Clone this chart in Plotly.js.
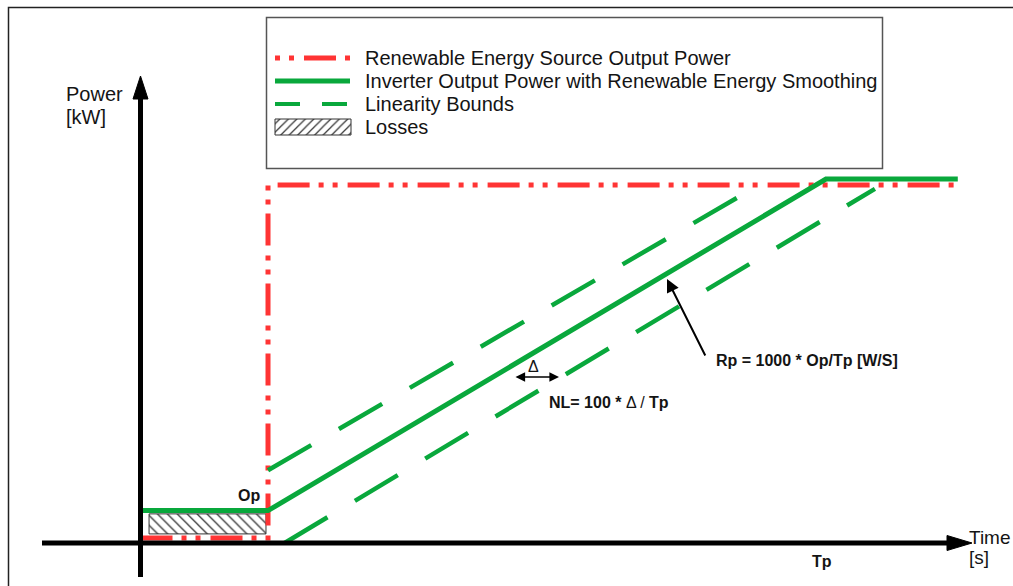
<!DOCTYPE html>
<html>
<head>
<meta charset="utf-8">
<script src="https://cdn.plot.ly/plotly-3.0.1.min.js"></script>
<style>html,body{margin:0;padding:0;background:#fff;}#chart{width:1013px;height:586px;}</style>
</head>
<body>
<div id="chart"></div>
<script>
// ---- Data (time in arbitrary units, power in % of final output) ----
const timeSource   = [0, 10, 10, 64.1];
const powerSource  = [1.4, 1.4, 98.35, 98.35];
const timeInverter  = [0, 10, 53.76, 64.1];
const powerInverter = [8.9, 8.9, 100, 100];
const timeUpperBound  = [10, 48.4];
const powerUpperBound = [20, 98.1];
const timeLowerBound  = [11.3, 57.6];
const powerLowerBound = [0, 97.3];
const timeLosses  = [0.67, 9.84, 9.84, 0.67, 0.67];
const powerLosses = [2.5, 2.5, 8, 8, 2.5];
const legendLabels = ["Renewable Energy Source Output Power",
  "Inverter Output Power with Renewable Energy Smoothing",
  "Linearity Bounds", "Losses"];

const RED = '#ff3434', GREEN = '#09a83c', INK = '#141414';
const FONT = 'Liberation Sans, Arial, sans-serif';
const redDash = '32px,9px,5px,9px,5px,10px';
const greenDash = '50px,32px';

const traces = [
  {x: timeLosses, y: powerLosses, mode: 'lines', fill: 'toself', fillcolor: 'white',
   fillpattern: {shape: '\\', fgcolor: '#333', bgcolor: 'white', size: 7, solidity: 0.18},
   line: {color: '#333', width: 1}, hoverinfo: 'skip'},
  {x: timeSource, y: powerSource, mode: 'lines', line: {color: RED, width: 5, dash: redDash}},
  {x: timeUpperBound, y: powerUpperBound, mode: 'lines', line: {color: GREEN, width: 4.5, dash: greenDash}},
  {x: timeLowerBound, y: powerLowerBound, mode: 'lines', line: {color: GREEN, width: 4.5, dash: greenDash}},
  {x: timeInverter, y: powerInverter, mode: 'lines', line: {color: GREEN, width: 5}},
  // legend hatched swatch (pixel overlay axes)
  {x: [275, 351, 351, 275, 275], y: [135, 135, 119, 119, 135], xaxis: 'x2', yaxis: 'y2',
   mode: 'lines', fill: 'toself', fillcolor: 'white',
   fillpattern: {shape: '/', fgcolor: '#333', bgcolor: 'white', size: 6, solidity: 0.2},
   line: {color: '#333', width: 1}, hoverinfo: 'skip'}
];

const px = (o) => Object.assign({xref: 'x2', yref: 'y2', layer: 'above'}, o);
const shapes = [
  px({type: 'path', path: 'M8.5,586 L8.5,7.5 L1013,7.5', line: {color: '#222', width: 1.5}}),
  px({type: 'rect', x0: 266.5, y0: 17.5, x1: 882.5, y1: 168.5, line: {color: '#555', width: 1.5}}),
  px({type: 'line', x0: 275, x1: 350, y0: 58, y1: 58, line: {color: RED, width: 5, dash: '5px,9px,5px,10px,32px,9px'}}),
  px({type: 'line', x0: 275, x1: 350, y0: 81, y1: 81, line: {color: GREEN, width: 5}}),
  px({type: 'line', x0: 275, x1: 350, y0: 104, y1: 104, line: {color: GREEN, width: 4, dash: '25px,22px'}}),
  // axes
  px({type: 'line', x0: 140.5, x1: 140.5, y0: 577, y1: 96, line: {color: '#000', width: 5}}),
  px({type: 'path', path: 'M140.5,76 L133,99 L148,99 Z', fillcolor: '#000', line: {color: '#000', width: 1}}),
  px({type: 'line', x0: 42, x1: 950, y0: 543, y1: 543, line: {color: '#000', width: 5}}),
  px({type: 'path', path: 'M972,543 L947,535.5 L947,550.5 Z', fillcolor: '#000', line: {color: '#000', width: 1}})
];

const txt = (text, x, y, o) => Object.assign({text: text, x: x, y: y, xref: 'x2', yref: 'y2',
  showarrow: false, xanchor: 'left', yanchor: 'middle', font: {family: FONT, size: 20, color: INK}}, o || {});
const annotations = [
  txt('Power', 64, 94), txt('[kW]', 64, 117),
  txt('Time', 967, 537, {font: {family: FONT, size: 19, color: INK}}),
  txt('[s]', 967, 557, {font: {family: FONT, size: 19, color: INK}}),
  txt('<b>Op</b>', 249, 495, {xanchor: 'center', font: {family: FONT, size: 16, color: INK}}),
  txt('<b>Tp</b>', 822, 561, {xanchor: 'center', font: {family: FONT, size: 16, color: INK}}),
  txt('Δ', 533, 366, {xanchor: 'center', font: {family: FONT, size: 16, color: INK}}),
  txt('<b>NL= 100 *</b> Δ / <b>Tp</b>', 547, 402, {font: {family: FONT, size: 16, color: INK}}),
  txt('<b>Rp = 1000 * Op/Tp [W/S]</b>', 714, 360, {font: {family: FONT, size: 16, color: INK}}),
  {text: '', x: 559, y: 377, ax: 514, ay: 377, xref: 'x2', yref: 'y2', axref: 'x2', ayref: 'y2',
   showarrow: true, arrowside: 'end+start', arrowhead: 2, arrowsize: 1.2, arrowwidth: 1.6, arrowcolor: '#000'},
  {text: '', x: 667, y: 279, ax: 706, ay: 357, xref: 'x2', yref: 'y2', axref: 'x2', ayref: 'y2',
   showarrow: true, arrowhead: 2, arrowsize: 1.3, arrowwidth: 2, arrowcolor: '#000'}
];
legendLabels.forEach((t, i) => annotations.push(txt(t, 363, 58 + 23 * i)));

const layout = {
  width: 1013, height: 586, autosize: false,
  margin: {l: 0, r: 0, t: 0, b: 0, pad: 0},
  paper_bgcolor: '#fff', plot_bgcolor: '#fff', showlegend: false,
  xaxis: {range: [-11.02, 68.43], visible: false, fixedrange: true, domain: [0, 1]},
  yaxis: {range: [-11.81, 149.18], visible: false, fixedrange: true, domain: [0, 1]},
  xaxis2: {range: [0, 1013], visible: false, overlaying: 'x', fixedrange: true},
  yaxis2: {range: [586, 0], visible: false, overlaying: 'y', fixedrange: true},
  shapes: shapes, annotations: annotations
};
Plotly.newPlot('chart', traces, layout, {staticPlot: true, displayModeBar: false});
</script>
</body>
</html>
